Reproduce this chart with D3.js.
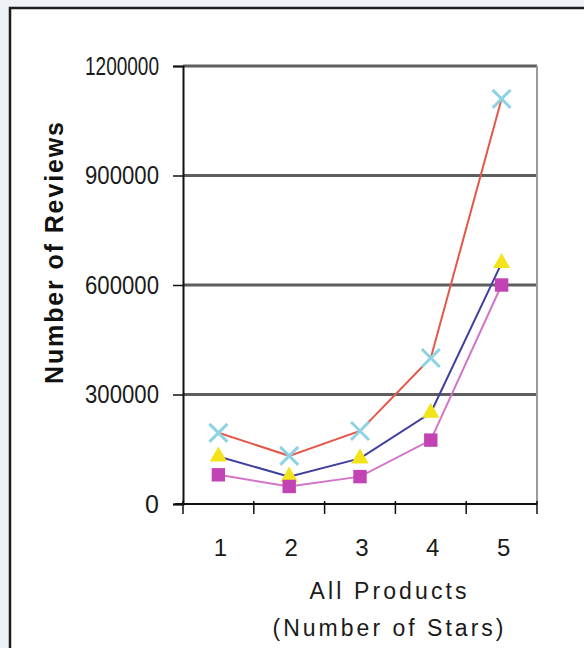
<!DOCTYPE html>
<html>
<head>
<meta charset="utf-8">
<script src="https://cdn.jsdelivr.net/npm/d3@7"></script>
<style>
  html, body { margin: 0; padding: 0; background: #eef2f6; }
  svg { display: block; }
</style>
</head>
<body>
<svg id="chart" width="584" height="648"></svg>
<script>
// Review counts by star rating
const stars = ["1", "2", "3", "4", "5"];
const reviewsTotal  = [195000, 132000, 200000, 400000, 1110000];
const reviewsMid    = [130000, 75000, 125000, 250000, 660000];
const reviewsLow    = [80000, 48000, 75000, 175000, 600000];
const yTicks = [0, 300000, 600000, 900000, 1200000];

const series = [
  { values: reviewsTotal, line: "#e4584a", fill: "#8fd3e3", shape: "x" },
  { values: reviewsMid,   line: "#3f3f9e", fill: "#f2e31a", shape: "triangle" },
  { values: reviewsLow,   line: "#d274c8", fill: "#c244b4", shape: "square" }
];

const FONT = "Liberation Sans, Arial, sans-serif";
const svg = d3.select("#chart");

// frame
svg.append("rect").attr("x", 10).attr("y", 8).attr("width", 590).attr("height", 660)
  .attr("fill", "#ffffff").attr("stroke", "#1e1e1e").attr("stroke-width", 2.5);

const plotL = 183, plotR = 537, plotT = 66, plotB = 504;

const x = d3.scaleBand().domain(stars).range([plotL, plotR]);
const y = d3.scaleLinear().domain([0, 1200000]).range([plotB, plotT]);

// grid lines
svg.append("g").selectAll("line").data(yTicks.filter(d => d > 0)).join("line")
  .attr("x1", plotL).attr("x2", plotR)
  .attr("y1", d => y(d)).attr("y2", d => y(d))
  .attr("stroke", "#5e5e5e").attr("stroke-width", 3);

// right edge of plot
svg.append("line").attr("x1", plotR).attr("x2", plotR)
  .attr("y1", y(1200000)).attr("y2", y(0))
  .attr("stroke", "#9a9a9a").attr("stroke-width", 2);

// y axis
const yAxis = svg.append("g").attr("transform", `translate(${plotL},0)`)
  .call(d3.axisLeft(y).tickValues(yTicks).tickFormat(d3.format("d")).tickSize(10).tickPadding(14));
yAxis.select(".domain").attr("stroke", "#111").attr("stroke-width", 2);
yAxis.selectAll(".tick line").attr("stroke", "#111").attr("stroke-width", 1.5);
yAxis.selectAll(".tick text")
  .attr("font-family", FONT)
  .attr("font-size", 25).attr("fill", "#1a1a1a")
  .each(function (d) {
    const s = String(d);
    if (s.length > 1) d3.select(this).attr("textLength", 74).attr("lengthAdjust", "spacingAndGlyphs");
  });

// x axis
const xAxis = svg.append("g").attr("transform", `translate(0,${plotB})`);
xAxis.append("line").attr("x1", plotL - 8).attr("x2", plotR)
  .attr("stroke", "#111").attr("stroke-width", 2);
const bounds = stars.map(s => x(s)).concat([plotR]);
xAxis.selectAll("line.tk").data(bounds).join("line").attr("class", "tk")
  .attr("x1", d => d).attr("x2", d => d).attr("y1", -3).attr("y2", 10)
  .attr("stroke", "#111").attr("stroke-width", 1.5);
xAxis.selectAll("text").data(stars).join("text")
  .attr("x", d => x(d) + x.bandwidth() / 2 + 2)
  .attr("y", 52)
  .attr("text-anchor", "middle")
  .attr("font-family", FONT)
  .attr("font-size", 24).attr("fill", "#1a1a1a")
  .text(d => d);

// axis titles
svg.append("text")
  .attr("transform", "translate(63,253) rotate(-90)")
  .attr("text-anchor", "middle")
  .attr("font-family", FONT)
  .attr("font-weight", "bold").attr("font-size", 25).attr("fill", "#111")
  .attr("textLength", 262).attr("lengthAdjust", "spacing")
  .text("Number of Reviews");

svg.append("text")
  .attr("x", 388).attr("y", 599)
  .attr("text-anchor", "middle")
  .attr("font-family", FONT)
  .attr("font-size", 23).attr("fill", "#1a1a1a")
  .attr("textLength", 157).attr("lengthAdjust", "spacing")
  .text("All Products");

svg.append("text")
  .attr("x", 388).attr("y", 636)
  .attr("text-anchor", "middle")
  .attr("font-family", FONT)
  .attr("font-size", 23).attr("fill", "#1a1a1a")
  .attr("textLength", 231).attr("lengthAdjust", "spacing")
  .text("(Number of Stars)");

// lines
const cx = (i) => x(stars[i]) + x.bandwidth() / 2;
const line = d3.line().x((d, i) => cx(i)).y(d => y(d));

series.forEach(s => {
  svg.append("path").attr("d", line(s.values))
    .attr("fill", "none").attr("stroke", s.line).attr("stroke-width", 2);
});

// markers
const tri = d3.symbol().type(d3.symbolTriangle).size(130);
const sq = d3.symbol().type(d3.symbolSquare).size(180);
series.forEach(s => {
  const g = svg.append("g");
  s.values.forEach((v, i) => {
    const px = cx(i), py = y(v);
    if (s.shape === "x") {
      g.append("path")
        .attr("d", `M${px - 9},${py - 9}L${px + 9},${py + 9}M${px - 9},${py + 9}L${px + 9},${py - 9}`)
        .attr("stroke", s.fill).attr("stroke-width", 3).attr("fill", "none");
    } else if (s.shape === "triangle") {
      g.append("path").attr("d", tri()).attr("transform", `translate(${px},${py})`)
        .attr("fill", s.fill);
    } else {
      g.append("path").attr("d", sq()).attr("transform", `translate(${px},${py})`)
        .attr("fill", s.fill);
    }
  });
});
</script>
</body>
</html>
